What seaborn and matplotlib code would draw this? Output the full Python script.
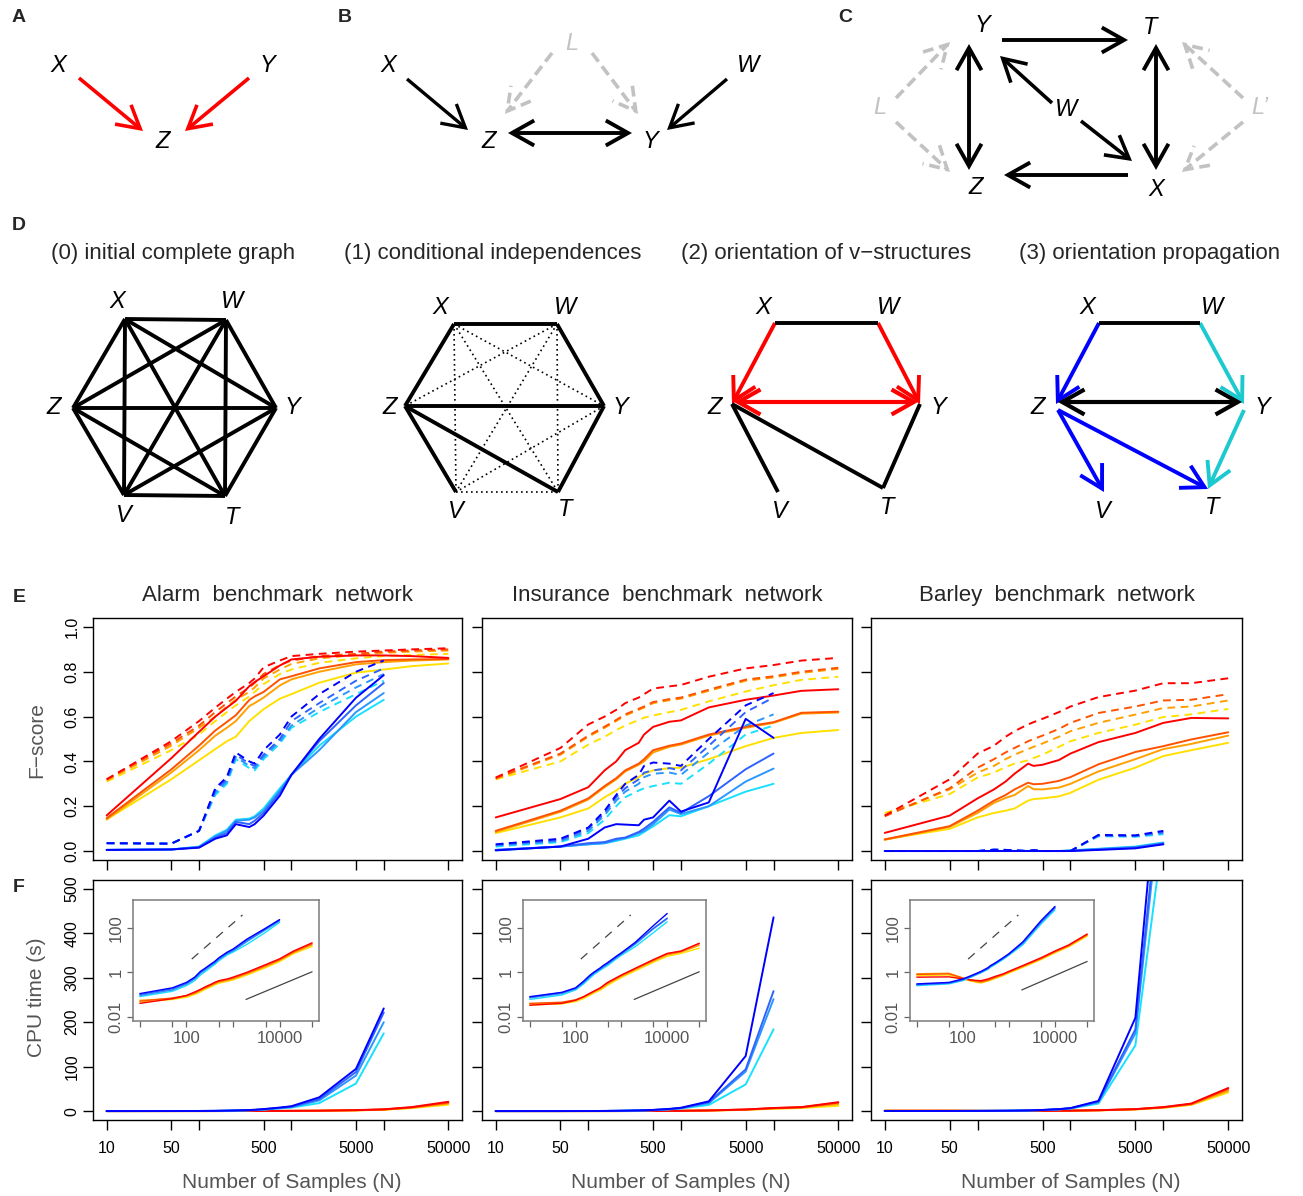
import numpy as np
import pandas as pd
import matplotlib
matplotlib.use("Agg")
import matplotlib.pyplot as plt
import matplotlib.ticker as mticker
from matplotlib.patches import FancyArrowPatch
import seaborn as sns

sns.set_style("ticks")
plt.rcParams['font.family'] = ['Liberation Sans', 'DejaVu Sans']

# ---------------------------------------------------------------- data
N_ALL = [10, 50, 100, 150, 200, 250, 350, 400, 500, 750, 1000, 2000, 5000, 10000, 20000, 50000]
N_COOL = N_ALL[:14]
TICK_N = [10, 50, 100, 500, 1000, 5000, 10000, 50000]
TICK_N_LABELS = ['10', '50', '', '500', '', '5000', '', '50000']
INSET_X_LABELS = ['', '', '100', '', '', '', '10000', '']
INSET_Y_TICKS = [0.01, 1, 100]
INSET_Y_LABELS = ['0.01', '1', '100']
FSCORE_TICKS = [0.0, 0.2, 0.4, 0.6, 0.8, 1.0]
CPU_TICKS = [0, 100, 200, 300, 400, 500]

WARM_NAMES = ['w1', 'w2', 'w3', 'w4']
COOL_NAMES = ['c1', 'c2', 'c3', 'c4']
WARM_COLORS = ['#FF0000', '#FF5200', '#FFA000', '#FFE000']
COOL_COLORS = ['#0000FF', '#2F63FF', '#2A97FF', '#18E0FF']

NETWORK_TITLES = ['Alarm  benchmark  network', 'Insurance  benchmark  network', 'Barley  benchmark  network']

# F-score, Alarm
ALARM_WARM = [
    [0.159, 0.414, 0.532, 0.60, 0.64, 0.67, 0.736, 0.754, 0.78, 0.828, 0.855, 0.867, 0.873, 0.873, 0.87, 0.862],
    [0.147, 0.364, 0.47, 0.538, 0.576, 0.606, 0.674, 0.69, 0.71, 0.766, 0.78, 0.815, 0.843, 0.852, 0.855, 0.857],
    [0.141, 0.35, 0.45, 0.515, 0.55, 0.58, 0.647, 0.66, 0.685, 0.739, 0.766, 0.80, 0.833, 0.843, 0.85, 0.855],
    [0.141, 0.32, 0.405, 0.455, 0.49, 0.51, 0.58, 0.60, 0.633, 0.68, 0.70, 0.751, 0.796, 0.81, 0.825, 0.837]]
ALARM_WARM_D = [
    [0.32, 0.49, 0.58, 0.64, 0.68, 0.71, 0.75, 0.77, 0.82, 0.85, 0.87, 0.88, 0.89, 0.895, 0.90, 0.905],
    [0.32, 0.48, 0.56, 0.62, 0.66, 0.69, 0.73, 0.75, 0.79, 0.83, 0.85, 0.87, 0.88, 0.89, 0.895, 0.90],
    [0.315, 0.47, 0.55, 0.60, 0.645, 0.675, 0.71, 0.73, 0.77, 0.81, 0.835, 0.86, 0.875, 0.885, 0.89, 0.895],
    [0.31, 0.45, 0.52, 0.58, 0.62, 0.65, 0.69, 0.71, 0.745, 0.79, 0.81, 0.84, 0.86, 0.87, 0.875, 0.88]]
ALARM_COOL = [
    [0.005, 0.007, 0.015, 0.055, 0.07, 0.12, 0.107, 0.12, 0.158, 0.247, 0.34, 0.50, 0.684, 0.785],
    [0.005, 0.007, 0.017, 0.06, 0.08, 0.13, 0.12, 0.135, 0.17, 0.26, 0.34, 0.49, 0.65, 0.75],
    [0.005, 0.007, 0.018, 0.065, 0.09, 0.135, 0.14, 0.15, 0.18, 0.27, 0.34, 0.45, 0.62, 0.705],
    [0.005, 0.007, 0.02, 0.07, 0.095, 0.14, 0.145, 0.155, 0.19, 0.28, 0.34, 0.47, 0.60, 0.675]]
ALARM_COOL_D = [
    [0.035, 0.033, 0.09, 0.28, 0.33, 0.44, 0.40, 0.39, 0.45, 0.52, 0.60, 0.70, 0.80, 0.85],
    [0.035, 0.033, 0.09, 0.27, 0.32, 0.43, 0.39, 0.38, 0.43, 0.50, 0.58, 0.66, 0.76, 0.815],
    [0.035, 0.033, 0.09, 0.26, 0.31, 0.42, 0.38, 0.37, 0.42, 0.49, 0.56, 0.64, 0.73, 0.79],
    [0.035, 0.033, 0.09, 0.25, 0.30, 0.41, 0.37, 0.36, 0.41, 0.48, 0.55, 0.62, 0.70, 0.76]]

# F-score, Insurance
INS_WARM = [
    [0.15, 0.232, 0.285, 0.36, 0.40, 0.45, 0.483, 0.52, 0.554, 0.577, 0.583, 0.641, 0.675, 0.694, 0.715, 0.722],
    [0.09, 0.18, 0.235, 0.29, 0.325, 0.36, 0.39, 0.41, 0.45, 0.47, 0.48, 0.52, 0.555, 0.575, 0.617, 0.622],
    [0.085, 0.175, 0.23, 0.285, 0.32, 0.355, 0.385, 0.40, 0.44, 0.465, 0.475, 0.515, 0.55, 0.572, 0.613, 0.618],
    [0.08, 0.15, 0.19, 0.24, 0.27, 0.30, 0.33, 0.345, 0.36, 0.37, 0.372, 0.41, 0.468, 0.505, 0.527, 0.54]]
INS_WARM_D = [
    [0.328, 0.46, 0.565, 0.60, 0.63, 0.66, 0.685, 0.70, 0.725, 0.735, 0.741, 0.778, 0.815, 0.83, 0.85, 0.862],
    [0.325, 0.435, 0.515, 0.555, 0.585, 0.61, 0.635, 0.645, 0.665, 0.678, 0.685, 0.72, 0.765, 0.78, 0.80, 0.818],
    [0.322, 0.43, 0.51, 0.55, 0.58, 0.605, 0.63, 0.64, 0.66, 0.673, 0.68, 0.715, 0.76, 0.775, 0.795, 0.813],
    [0.32, 0.40, 0.475, 0.51, 0.54, 0.56, 0.585, 0.595, 0.605, 0.62, 0.63, 0.668, 0.712, 0.74, 0.764, 0.778]]
INS_COOL = [
    [0.003, 0.02, 0.055, 0.105, 0.12, 0.118, 0.115, 0.14, 0.15, 0.225, 0.176, 0.217, 0.59, 0.505],
    [0.005, 0.02, 0.035, 0.04, 0.055, 0.06, 0.085, 0.10, 0.13, 0.195, 0.17, 0.245, 0.365, 0.435],
    [0.005, 0.02, 0.03, 0.035, 0.05, 0.058, 0.08, 0.09, 0.12, 0.185, 0.165, 0.20, 0.31, 0.368],
    [0.003, 0.02, 0.03, 0.035, 0.045, 0.055, 0.07, 0.085, 0.11, 0.16, 0.155, 0.20, 0.265, 0.30]]
INS_COOL_D = [
    [0.03, 0.055, 0.105, 0.18, 0.25, 0.30, 0.34, 0.38, 0.395, 0.39, 0.38, 0.50, 0.65, 0.705],
    [0.028, 0.05, 0.10, 0.17, 0.24, 0.28, 0.32, 0.35, 0.36, 0.37, 0.36, 0.47, 0.62, 0.685],
    [0.025, 0.045, 0.09, 0.16, 0.225, 0.265, 0.30, 0.33, 0.345, 0.35, 0.34, 0.44, 0.56, 0.61],
    [0.02, 0.04, 0.08, 0.14, 0.20, 0.24, 0.27, 0.28, 0.29, 0.305, 0.30, 0.39, 0.52, 0.56]]

# F-score, Barley
BAR_WARM = [
    [0.081, 0.158, 0.235, 0.275, 0.31, 0.345, 0.39, 0.38, 0.385, 0.406, 0.435, 0.486, 0.527, 0.572, 0.594, 0.592],
    [0.052, 0.111, 0.18, 0.225, 0.25, 0.275, 0.305, 0.298, 0.30, 0.313, 0.33, 0.387, 0.442, 0.468, 0.498, 0.53],
    [0.05, 0.108, 0.17, 0.215, 0.237, 0.25, 0.29, 0.276, 0.275, 0.283, 0.30, 0.355, 0.41, 0.455, 0.478, 0.515],
    [0.052, 0.099, 0.15, 0.17, 0.18, 0.19, 0.225, 0.232, 0.235, 0.244, 0.26, 0.318, 0.372, 0.424, 0.45, 0.483]]
BAR_WARM_D = [
    [0.158, 0.32, 0.435, 0.47, 0.51, 0.535, 0.565, 0.575, 0.59, 0.62, 0.645, 0.687, 0.716, 0.749, 0.749, 0.771],
    [0.155, 0.28, 0.372, 0.41, 0.44, 0.46, 0.49, 0.50, 0.515, 0.545, 0.572, 0.616, 0.645, 0.672, 0.675, 0.70],
    [0.16, 0.275, 0.35, 0.38, 0.41, 0.43, 0.455, 0.465, 0.48, 0.51, 0.535, 0.572, 0.609, 0.638, 0.645, 0.672],
    [0.17, 0.254, 0.328, 0.35, 0.375, 0.39, 0.405, 0.415, 0.43, 0.465, 0.49, 0.527, 0.564, 0.598, 0.61, 0.634]]
BAR_COOL = [
    [0.0, 0.0, 0.0, 0.0, 0.0, 0.0, 0.0, 0.0, 0.0, 0.0, 0.0, 0.005, 0.012, 0.030],
    [0.0, 0.0, 0.0, 0.0, 0.0, 0.0, 0.0, 0.0, 0.0, 0.0, 0.001, 0.007, 0.015, 0.033],
    [0.0, 0.0, 0.0, 0.0, 0.0, 0.0, 0.0, 0.0, 0.0, 0.0, 0.002, 0.009, 0.018, 0.036],
    [0.0, 0.0, 0.0, 0.0, 0.0, 0.0, 0.0, 0.0, 0.0, 0.0, 0.003, 0.010, 0.020, 0.038]]
BAR_COOL_D = [
    [0.0, 0.0, 0.0, 0.006, 0.005, 0.003, 0.0, 0.004, 0.0, 0.0, 0.0, 0.072, 0.070, 0.090],
    [0.0, 0.0, 0.0, 0.006, 0.005, 0.003, 0.0, 0.004, 0.0, 0.0, 0.0, 0.070, 0.068, 0.085],
    [0.0, 0.0, 0.0, 0.006, 0.005, 0.003, 0.0, 0.004, 0.0, 0.0, 0.0, 0.068, 0.066, 0.080],
    [0.0, 0.0, 0.0, 0.006, 0.005, 0.003, 0.0, 0.004, 0.0, 0.0, 0.0, 0.066, 0.064, 0.075]]

# CPU time (s)
ALARM_CPU_WARM = [
    [0.04, 0.065, 0.09, 0.13, 0.17, 0.22, 0.30, 0.35, 0.42, 0.50, 0.60, 1.0, 2.2, 4.0, 9.0, 21],
    [0.05, 0.07, 0.09, 0.12, 0.16, 0.20, 0.28, 0.32, 0.39, 0.47, 0.55, 0.92, 2.0, 3.7, 8.3, 19],
    [0.055, 0.065, 0.085, 0.11, 0.15, 0.19, 0.26, 0.30, 0.36, 0.43, 0.50, 0.85, 1.8, 3.4, 7.6, 17],
    [0.045, 0.06, 0.075, 0.10, 0.13, 0.17, 0.23, 0.27, 0.32, 0.39, 0.45, 0.75, 1.6, 3.0, 6.8, 14.5]]
ALARM_CPU_COOL = [
    [0.11, 0.20, 0.35, 0.60, 1.1, 1.5, 2.5, 3.0, 4.5, 8.0, 11, 31, 95, 231],
    [0.10, 0.18, 0.32, 0.55, 1.0, 1.4, 2.3, 2.8, 4.2, 7.5, 10, 27, 88, 222],
    [0.09, 0.16, 0.29, 0.50, 0.9, 1.25, 2.1, 2.5, 3.8, 6.8, 9, 24, 80, 200],
    [0.08, 0.14, 0.25, 0.42, 0.75, 1.05, 1.8, 2.2, 3.3, 6.0, 8, 18, 62, 175]]
INS_CPU_WARM = [
    [0.033, 0.04, 0.055, 0.08, 0.11, 0.14, 0.20, 0.25, 0.35, 0.55, 0.75, 1.5, 3.7, 7.0, 9.0, 20],
    [0.04, 0.045, 0.058, 0.08, 0.11, 0.14, 0.20, 0.24, 0.33, 0.52, 0.72, 1.45, 3.5, 6.7, 8.6, 19],
    [0.038, 0.042, 0.055, 0.075, 0.10, 0.13, 0.18, 0.22, 0.30, 0.48, 0.66, 1.3, 3.2, 6.0, 8.0, 16],
    [0.034, 0.038, 0.048, 0.066, 0.09, 0.115, 0.16, 0.19, 0.26, 0.42, 0.58, 1.15, 2.8, 5.2, 7.0, 12]]
INS_CPU_COOL = [
    [0.08, 0.125, 0.20, 0.40, 0.70, 1.0, 1.6, 2.0, 2.7, 5.0, 7.5, 22, 124, 436],
    [0.075, 0.12, 0.19, 0.37, 0.65, 0.95, 1.5, 1.85, 2.5, 4.6, 7.0, 20, 94, 270],
    [0.07, 0.11, 0.18, 0.34, 0.60, 0.88, 1.4, 1.7, 2.3, 4.3, 6.5, 18, 89, 252],
    [0.06, 0.095, 0.16, 0.30, 0.52, 0.78, 1.25, 1.5, 2.0, 3.8, 5.8, 14, 60, 184]]
BAR_CPU_WARM = [
    [0.60, 0.62, 0.50, 0.45, 0.43, 0.42, 0.50, 0.55, 0.65, 0.85, 1.1, 2.0, 4.5, 9.0, 17, 52],
    [0.80, 0.85, 0.55, 0.45, 0.40, 0.38, 0.45, 0.50, 0.60, 0.80, 1.05, 1.9, 4.2, 8.5, 16, 50],
    [0.85, 0.90, 0.55, 0.42, 0.37, 0.35, 0.42, 0.47, 0.56, 0.76, 1.0, 1.8, 4.0, 8.0, 15, 46],
    [0.70, 0.75, 0.50, 0.40, 0.35, 0.33, 0.40, 0.44, 0.52, 0.70, 0.92, 1.65, 3.7, 7.4, 14, 42]]
BAR_CPU_COOL = [
    [0.30, 0.35, 0.50, 0.70, 0.90, 1.1, 1.6, 2.0, 2.6, 4.5, 6.8, 23, 210, 900],
    [0.28, 0.33, 0.47, 0.66, 0.85, 1.05, 1.5, 1.9, 2.5, 4.3, 6.5, 21, 184, 800],
    [0.27, 0.32, 0.45, 0.63, 0.82, 1.0, 1.45, 1.8, 2.4, 4.1, 6.2, 20, 175, 760],
    [0.25, 0.30, 0.42, 0.60, 0.78, 0.95, 1.35, 1.7, 2.2, 3.8, 5.8, 17, 148, 630]]

# inset reference slopes (N, seconds)
REF_DASH_N = [130, 1600]
REF_DASH_T = [3.9, 375]
REF_SOLID_N = [1900, 50000]
REF_SOLID_T = [[0.06, 1.05], [0.06, 1.05], [0.16, 3.05]]

# ---------------------------------------------------------------- layout
W, H = 1303, 1196
fig = plt.figure(figsize=(W / 100, H / 100), dpi=100)


def rect(x0, y0, x1, y1):
    return [x0 / W, 1 - y1 / H, (x1 - x0) / W, (y1 - y0) / H]


def fx(x):
    return x / W


def fy(y):
    return 1 - y / H


# overlay for diagrams (pixel coordinates)
dax = fig.add_axes([0, 0, 1, 1])
dax.set_xlim(0, W)
dax.set_ylim(H, 0)
dax.axis('off')
dax.patch.set_visible(False)

LETTER_KW = dict(fontsize=17, fontstyle='italic', ha='center', va='center')


def node_text(ax, pos, s, color='black'):
    ax.text(pos[0], pos[1], s, color=color, **LETTER_KW)


def arrow(ax, p0, p1, color='black', lw=2.4, style='->', ls='solid', ms=25):
    a = FancyArrowPatch(p0, p1, arrowstyle=f'{style},head_length=0.64,head_width=0.36',
                        mutation_scale=ms, color=color, lw=lw, linestyle=ls,
                        shrinkA=0, shrinkB=0, capstyle='butt', joinstyle='miter')
    ax.add_patch(a)


def seg(ax, p0, p1, color='black', lw=2.8, ls='-'):
    ax.plot([p0[0], p1[0]], [p0[1], p1[1]], color=color, lw=lw, ls=ls, solid_capstyle='butt')


GRAY = '#C2C2C2'

# Panel A
A_LABELS = {'X': (58, 66), 'Y': (267, 66), 'Z': (163, 142)}
A_ARROWS = [((79, 78), (143, 131)), ((249, 78), (185, 131))]
for k, p in A_LABELS.items():
    node_text(dax, p, k)
for p0, p1 in A_ARROWS:
    arrow(dax, p0, p1, color='#FF0000', lw=2.6)

# Panel B
B_LABELS = {'X': (388, 66), 'W': (748, 66), 'Z': (489, 142), 'Y': (650, 142)}
for k, p in B_LABELS.items():
    node_text(dax, p, k)
node_text(dax, (572, 44), 'L', GRAY)
arrow(dax, (407, 79), (468, 130))
arrow(dax, (727, 79), (667, 130))
arrow(dax, (508, 133), (632, 133), style='<->', lw=2.8)
arrow(dax, (552, 53), (505, 114), color=GRAY, ls=(0, (3, 1.6)), lw=2.6)
arrow(dax, (592, 53), (638, 114), color=GRAY, ls=(0, (3, 1.6)), lw=2.6)

# Panel C
C_LABELS = {'Y': (982, 25), 'T': (1150, 27), 'W': (1066, 110), 'Z': (976, 188), 'X': (1156, 190)}
for k, p in C_LABELS.items():
    node_text(dax, p, k)
node_text(dax, (880, 108), 'L', GRAY)
node_text(dax, (1260, 108), 'L\u2019', GRAY)
arrow(dax, (1002, 40), (1128, 40), lw=2.8)
arrow(dax, (969, 44), (969, 170), style='<->', lw=2.8)
arrow(dax, (1156, 44), (1156, 170), style='<->', lw=2.8)
arrow(dax, (1052, 103), (1000, 56), lw=2.6)
arrow(dax, (1081, 121), (1132, 161), lw=2.6)
arrow(dax, (1128, 175), (1004, 175), lw=2.8)
for p0, p1 in [((896, 98), (950, 42)), ((896, 122), (950, 172)),
               ((1243, 98), (1182, 42)), ((1243, 122), (1182, 172))]:
    arrow(dax, p0, p1, color=GRAY, ls=(0, (3, 1.6)), lw=2.6)

# Panel D
D_TITLES = ['(0) initial complete graph', '(1) conditional independences',
            '(2) orientation of v\u2212structures', '(3) orientation propagation']
D_TITLE_X = [173, 493, 826, 1150]
for t, x in zip(D_TITLES, D_TITLE_X):
    dax.text(x, 254, t, fontsize=16, ha='center', va='center')

NODES = ['X', 'W', 'Z', 'Y', 'V', 'T']
HEX0_LABEL = {'X': (117, 302), 'W': (232, 302), 'Z': (54, 408), 'Y': (292, 408), 'V': (124, 515), 'T': (232, 517)}
HEX0_PT = {'X': (125, 319), 'W': (226, 320), 'Z': (73, 408), 'Y': (276, 408), 'V': (124, 495), 'T': (225, 496)}
for k in NODES:
    node_text(dax, HEX0_LABEL[k], k)
for i in range(6):
    for j in range(i + 1, 6):
        seg(dax, HEX0_PT[NODES[i]], HEX0_PT[NODES[j]], lw=2.8)

HEX1_LABEL = {'X': (440, 308), 'W': (565, 308), 'Z': (390, 408), 'Y': (620, 408), 'V': (456, 512), 'T': (565, 510)}
HEX1_PT = {'X': (454, 324), 'W': (557, 324), 'Z': (405, 406), 'Y': (604, 406), 'V': (456, 492), 'T': (558, 492)}
HEX1_SOLID = [('X', 'W'), ('X', 'Z'), ('W', 'Y'), ('Z', 'Y'), ('Z', 'V'), ('Z', 'T'), ('Y', 'T')]
for k in NODES:
    node_text(dax, HEX1_LABEL[k], k)
for i in range(6):
    for j in range(i + 1, 6):
        a, b = NODES[i], NODES[j]
        if (a, b) in HEX1_SOLID or (b, a) in HEX1_SOLID:
            seg(dax, HEX1_PT[a], HEX1_PT[b], lw=2.8)
        else:
            seg(dax, HEX1_PT[a], HEX1_PT[b], lw=1.2, ls=(0, (1, 2)))

HEX2_LABEL = {'X': (763, 308), 'W': (888, 308), 'Z': (715, 408), 'Y': (938, 407), 'V': (780, 512), 'T': (887, 508)}
HEX2_PT = {'X': (775, 323), 'W': (878, 323), 'Z': (732, 404), 'Y': (920, 404), 'V': (778, 492), 'T': (883, 488)}
for k in NODES:
    node_text(dax, HEX2_LABEL[k], k)
seg(dax, HEX2_PT['X'], HEX2_PT['W'])
seg(dax, HEX2_PT['Z'], HEX2_PT['V'])
seg(dax, HEX2_PT['Z'], HEX2_PT['T'])
seg(dax, HEX2_PT['Y'], HEX2_PT['T'])
arrow(dax, HEX2_PT['X'], HEX2_PT['Z'], color='#FF0000', lw=2.8)
arrow(dax, HEX2_PT['W'], HEX2_PT['Y'], color='#FF0000', lw=2.8)
arrow(dax, (734, 402), (918, 402), color='#FF0000', style='<->', lw=3.0)

HEX3_LABEL = {'X': (1087, 308), 'W': (1212, 308), 'Z': (1038, 408), 'Y': (1262, 407), 'V': (1103, 512), 'T': (1212, 508)}
HEX3_PT = {'X': (1099, 323), 'W': (1200, 323), 'Z': (1056, 404), 'Y': (1244, 404), 'V': (1104, 492), 'T': (1208, 489)}
CYAN_D = '#1CC9CF'
for k in NODES:
    node_text(dax, HEX3_LABEL[k], k)
seg(dax, HEX3_PT['X'], HEX3_PT['W'])
arrow(dax, HEX3_PT['X'], HEX3_PT['Z'], color='#0000FF', lw=2.8)
arrow(dax, HEX3_PT['W'], HEX3_PT['Y'], color=CYAN_D, lw=2.8)
arrow(dax, (1058, 402), (1242, 402), color='black', style='<->', lw=3.0)
arrow(dax, (1058, 410), HEX3_PT['V'], color='#0000FF', lw=2.8)
arrow(dax, (1058, 410), HEX3_PT['T'], color='#0000FF', lw=2.8)
arrow(dax, (1244, 410), HEX3_PT['T'], color=CYAN_D, lw=2.8)

# Panel letters
for s, (x, y) in {'A': (19, 18), 'B': (345, 18), 'C': (845, 18), 'D': (19, 226),
                  'E': (19, 597), 'F': (19, 888)}.items():
    dax.text(x, y, s, fontsize=14, fontweight='bold', ha='center', va='center')

# ---------------------------------------------------------------- line plots
PALETTE = dict(zip(WARM_NAMES + COOL_NAMES, WARM_COLORS + COOL_COLORS))
HUE_ORDER = WARM_NAMES[::-1] + COOL_NAMES[::-1]
DASHES = {'solid': '', 'dashed': (4, 2.8)}


def long_df(warm, cool, warm_d=None, cool_d=None):
    rows = []
    for name, ys in zip(WARM_NAMES, warm):
        rows += [(n, v, name, 'solid') for n, v in zip(N_ALL, ys)]
    for name, ys in zip(COOL_NAMES, cool):
        rows += [(n, v, name, 'solid') for n, v in zip(N_COOL, ys)]
    if warm_d is not None:
        for name, ys in zip(WARM_NAMES, warm_d):
            rows += [(n, v, name, 'dashed') for n, v in zip(N_ALL, ys)]
        for name, ys in zip(COOL_NAMES, cool_d):
            rows += [(n, v, name, 'dashed') for n, v in zip(N_COOL, ys)]
    return pd.DataFrame(rows, columns=['N', 'value', 'series', 'kind'])


FS_DATA = [(ALARM_WARM, ALARM_COOL, ALARM_WARM_D, ALARM_COOL_D),
           (INS_WARM, INS_COOL, INS_WARM_D, INS_COOL_D),
           (BAR_WARM, BAR_COOL, BAR_WARM_D, BAR_COOL_D)]
CPU_DATA = [(ALARM_CPU_WARM, ALARM_CPU_COOL), (INS_CPU_WARM, INS_CPU_COOL), (BAR_CPU_WARM, BAR_CPU_COOL)]

AX_X = [(93, 462), (482, 852), (871, 1242)]
INSET_X = [(133, 319), (523, 706), (910, 1094)]
XLIM = (10 ** 0.852, 10 ** 4.847)
LABEL_GRAY = '#555555'


def style_main(ax):
    for sp in ax.spines.values():
        sp.set_color('black')
        sp.set_linewidth(1.0)
        sp.set_visible(True)
    ax.set_xscale('log')
    ax.set_xlim(*XLIM)
    ax.xaxis.set_minor_locator(mticker.NullLocator())
    ax.tick_params(direction='out', length=7.2, width=1.0, color='black', labelsize=11.5,
                   labelcolor='black')
    ax.tick_params(axis='y', pad=2.5)
    ax.tick_params(axis='x', pad=8)
    ax.set_xlabel('')
    ax.set_ylabel('')


for i in range(3):
    x0, x1 = AX_X[i]
    # ---- E: F-score
    ax = fig.add_axes(rect(x0, 618, x1, 860))
    ax.set_xscale('log')
    df = long_df(*FS_DATA[i])
    sns.lineplot(data=df, x='N', y='value', hue='series', style='kind', hue_order=HUE_ORDER,
                 style_order=['dashed', 'solid'], palette=PALETTE, dashes=DASHES,
                 estimator=None, sort=True, legend=False, lw=1.4, ax=ax)
    style_main(ax)
    ax.set_ylim(-0.04, 1.04)
    ax.set_xticks(TICK_N, labels=[''] * len(TICK_N))
    if i == 0:
        ax.set_yticks(FSCORE_TICKS, labels=[f'{t:.1f}' for t in FSCORE_TICKS], rotation=90, va='center')
    else:
        ax.set_yticks(FSCORE_TICKS, labels=[''] * len(FSCORE_TICKS))
    fig.text(fx((x0 + x1) / 2), fy(595), NETWORK_TITLES[i], fontsize=16, ha='center', va='center')

    # ---- F: CPU time
    axf = fig.add_axes(rect(x0, 880, x1, 1120))
    axf.set_xscale('log')
    dff = long_df(*CPU_DATA[i])
    sns.lineplot(data=dff, x='N', y='value', hue='series', hue_order=HUE_ORDER,
                 palette=PALETTE, estimator=None, sort=True, legend=False, lw=1.4, ax=axf)
    style_main(axf)
    axf.set_ylim(-20, 520)
    axf.set_xticks(TICK_N, labels=TICK_N_LABELS)
    if i == 0:
        axf.set_yticks(CPU_TICKS, labels=[str(t) for t in CPU_TICKS], rotation=90, va='center')
    else:
        axf.set_yticks(CPU_TICKS, labels=[''] * len(CPU_TICKS))
    fig.text(fx((x0 + x1) / 2 + 14), fy(1183), 'Number of Samples (N)', fontsize=15,
             color=LABEL_GRAY, ha='center', va='center')

    # ---- inset (log-log)
    ix0, ix1 = INSET_X[i]
    ins = fig.add_axes(rect(ix0, 900, ix1, 1021))
    ins.set_facecolor('white')
    ins.set_xscale('log')
    ins.set_yscale('log')
    sns.lineplot(data=dff, x='N', y='value', hue='series', hue_order=HUE_ORDER,
                 palette=PALETTE, estimator=None, sort=True, legend=False, lw=1.0, ax=ins)
    ins.plot(REF_DASH_N, REF_DASH_T, color='#444444', lw=0.9, ls=(0, (7, 6)))
    ins.plot(REF_SOLID_N, REF_SOLID_T[i], color='#444444', lw=0.9)
    ins.set_xlim(*XLIM)
    ins.set_ylim(10 ** -2.19, 10 ** 3.245)
    ins.xaxis.set_minor_locator(mticker.NullLocator())
    ins.yaxis.set_minor_locator(mticker.NullLocator())
    ins.set_xticks(TICK_N, labels=INSET_X_LABELS)
    ins.set_yticks(INSET_Y_TICKS, labels=INSET_Y_LABELS, rotation=90, va='center')
    for sp in ins.spines.values():
        sp.set_color('#7A7A7A')
        sp.set_linewidth(1.1)
        sp.set_visible(True)
    ins.tick_params(direction='out', length=4, width=0.9, color='#666666', labelsize=12,
                    labelcolor=LABEL_GRAY, pad=3)
    ins.set_xlabel('')
    ins.set_ylabel('')

fig.text(fx(37), fy(740), 'F\u2212score', fontsize=15, color=LABEL_GRAY, rotation=90,
         ha='center', va='center')
fig.text(fx(37), fy(997), 'CPU time (s)', fontsize=15, color=LABEL_GRAY, rotation=90,
         ha='center', va='center')

fig.savefig('out.png', dpi=100)
